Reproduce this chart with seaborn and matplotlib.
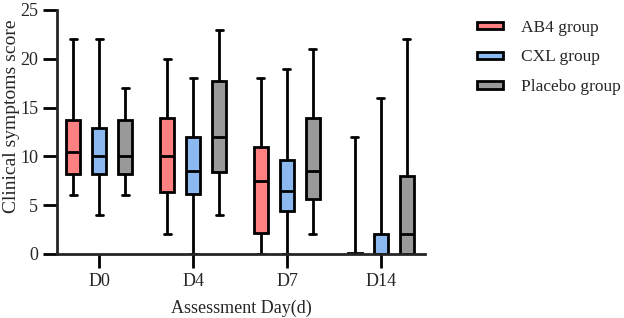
import numpy as np
import pandas as pd
import seaborn as sns
import matplotlib.pyplot as plt
from matplotlib.patches import Patch

days = ["D0", "D4", "D7", "D14"]
groups = ["AB4 group", "CXL group", "Placebo group"]
colors = ["#FF8080", "#8CB8F0", "#999999"]

# five-number summaries: min, Q1, median, Q3, max
ab4 = [[6, 8.15, 10.5, 13.7, 22], [2, 6.35, 10, 13.9, 20],
       [0, 2.1, 7.5, 10.95, 18], [0, 0, 0, 0.15, 12]]
cxl = [[4, 8.15, 10, 12.9, 22], [0, 6.1, 8.5, 12, 18],
       [0, 4.4, 6.5, 9.6, 19], [0, 0, 0, 2, 16]]
placebo = [[6, 8.15, 10, 13.7, 17], [4, 8.4, 12, 17.7, 23],
           [2, 5.6, 8.5, 13.9, 21], [0, 0, 2, 8, 22]]

rows = []
for g, summ in zip(groups, [ab4, cxl, placebo]):
    for d, five in zip(days, summ):
        for v in five:
            rows.append({"day": d, "group": g, "score": v})
df = pd.DataFrame(rows)

sns.set_style("ticks")
plt.rcParams['font.family'] = ['Liberation Serif', 'DejaVu Serif']

fig = plt.figure(figsize=(6.24, 3.18), dpi=100)
ax = fig.add_axes([0.0913, 0.2013, 0.5897, 0.7673])

sns.boxplot(data=df, x="day", y="score", hue="group", order=days, hue_order=groups,
            palette=colors, whis=(0, 100), width=0.83, gap=0.46, linewidth=2,
            linecolor="black", fliersize=0, saturation=1, legend=False, ax=ax)

ax.set_ylim(0, 25)
ax.set_xlim(-0.45, 3.47)
ax.set_yticks([0, 5, 10, 15, 20, 25])
ax.set_xlabel("Assessment Day(d)", fontsize=13, labelpad=7)
ax.set_ylabel("Clinical symptoms score", fontsize=14)
ax.yaxis.set_label_coords(-0.1, 0.566)
ax.tick_params(axis="both", labelsize=13, width=2, length=10, color="black")
for s in ["left", "bottom"]:
    ax.spines[s].set_linewidth(2)
sns.despine(ax=ax)

handles = [Patch(facecolor=c, edgecolor="black", linewidth=2) for c in colors]
ax.legend(handles, groups, loc="upper left", bbox_to_anchor=(1.1, 1.025), frameon=False,
          fontsize=12.5, handlelength=1.5, handleheight=0.25, labelspacing=0.8,
          handletextpad=1.0)

fig.savefig("out.png", dpi=100)
